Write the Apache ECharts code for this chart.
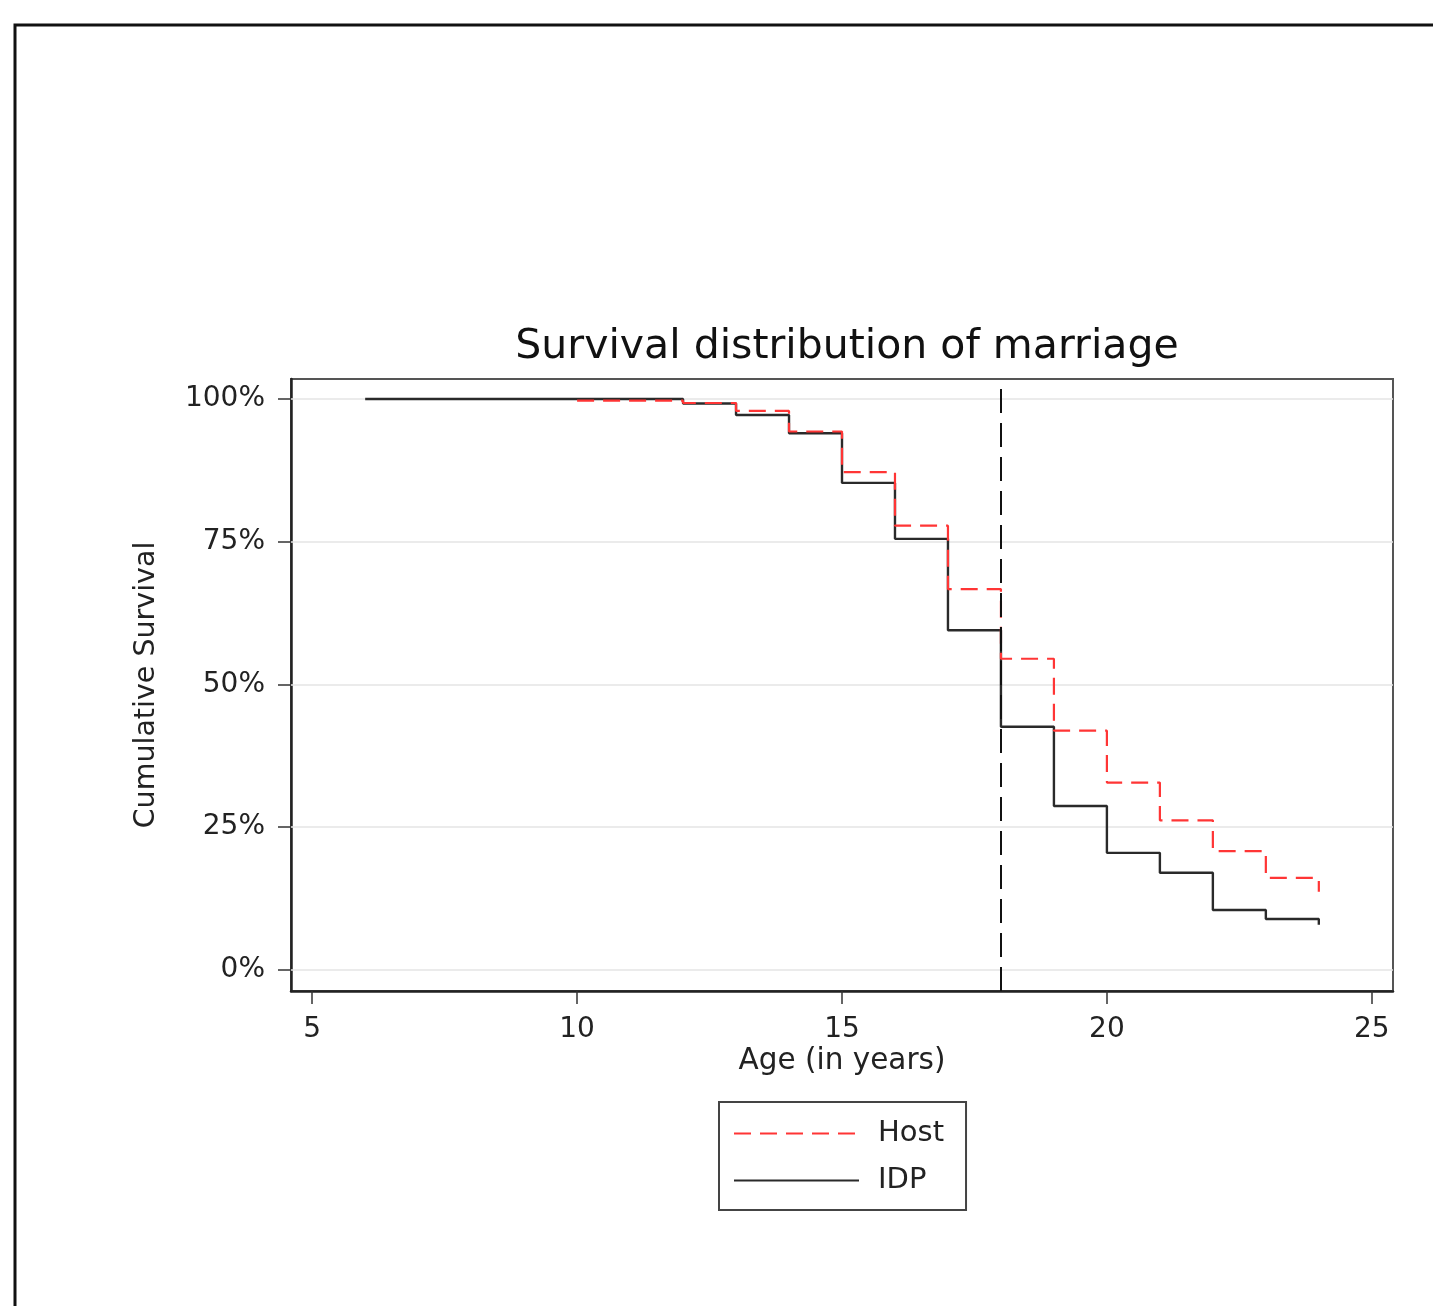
<!DOCTYPE html>
<html>
<head>
<meta charset="utf-8">
<script src="https://cdn.jsdelivr.net/npm/echarts@6/dist/echarts.min.js"></script>
<style>
html,body{margin:0;padding:0;background:#fff;}
#main{width:1433px;height:1306px;}
</style>
</head>
<body>
<div id="main"></div>
<script>
// Kaplan-Meier step points: [age, cumulative survival %]
var hostAges = [10, 12, 13, 14, 15, 16, 17, 18, 19, 20, 21, 22, 23, 24];
var hostSurv = [99.7, 99.3, 97.9, 94.3, 87.2, 77.8, 66.7, 54.5, 41.9, 32.8, 26.2, 20.8, 16.1, 13.7];
var idpAges = [6, 12, 13, 14, 15, 16, 17, 18, 19, 20, 21, 22, 23, 24];
var idpSurv = [100, 99.2, 97.2, 94.0, 85.3, 75.5, 59.5, 42.6, 28.7, 20.5, 17.0, 10.5, 8.9, 7.9];
var xTicks = [5, 10, 15, 20, 25];
var yTicks = [0, 25, 50, 75, 100];
var cutoffAge = 18;

var font = "'DejaVu Sans', 'Liberation Sans', Arial, sans-serif";

function pairs(xs, ys) {
  var out = [];
  for (var i = 0; i < xs.length; i++) out.push([xs[i], ys[i]]);
  return out;
}

var gridLines = yTicks.map(function (v) { return { yAxis: v }; });

var myChart = echarts.init(document.getElementById('main'));
var option = {
  backgroundColor: '#fff',
  animation: false,
  textStyle: { fontFamily: font },
  title: {
    text: 'Survival distribution of marriage',
    left: 842,
    textAlign: 'center',
    top: 322,
    textStyle: { fontSize: 41, fontWeight: 'normal', color: '#111', fontFamily: font }
  },
  graphic: [{
    type: 'rect',
    shape: { x: 15, y: 25, width: 1440, height: 1300 },
    style: { fill: 'none', stroke: '#111', lineWidth: 3 },
    silent: true
  }],
  legend: {
    orient: 'vertical',
    left: 719,
    top: 1102,
    itemWidth: 125,
    itemHeight: 14,
    itemGap: 18,
    padding: [17, 22, 15, 14],
    borderColor: '#444',
    borderWidth: 2,
    itemStyle: { opacity: 0 },
    textStyle: { fontSize: 29, color: '#222', fontFamily: font, padding: [0, 0, 0, 14] },
    data: ['Host', 'IDP']
  },
  grid: {
    left: 291,
    right: 40,
    top: 379,
    bottom: 315,
    show: true,
    borderColor: '#555',
    borderWidth: 2
  },
  xAxis: {
    type: 'value',
    min: 4.6,
    max: 25.4,
    name: 'Age (in years)',
    nameLocation: 'middle',
    nameGap: 55,
    nameTextStyle: { fontSize: 29.5, color: '#222', fontFamily: font },
    axisLine: { show: true, onZero: false, lineStyle: { color: '#222', width: 2.5 } },
    axisTick: { show: true, length: 13, lineStyle: { color: '#333', width: 1.5 }, customValues: xTicks },
    axisLabel: { fontSize: 28, color: '#222', margin: 25, customValues: xTicks },
    splitLine: { show: false }
  },
  yAxis: {
    type: 'value',
    min: -3.7,
    max: 103.5,
    name: 'Cumulative Survival',
    nameLocation: 'middle',
    nameGap: 130,
    nameTextStyle: { fontSize: 28.5, color: '#222', fontFamily: font },
    axisLine: { show: true, onZero: false, lineStyle: { color: '#222', width: 2.5 } },
    axisTick: { show: true, length: 13, lineStyle: { color: '#333', width: 1.5 }, customValues: yTicks },
    axisLabel: {
      fontSize: 28, color: '#222', margin: 26, customValues: yTicks,
      formatter: function (v) { return Math.round(v) + '%'; }
    },
    splitLine: { show: false }
  },
  series: [
    {
      name: 'Host',
      type: 'line',
      step: 'end',
      symbol: 'none',
      z: 3,
      lineStyle: { color: '#ff3535', width: 2.2, type: [17, 9] },
      itemStyle: { color: '#ff3535' },
      data: pairs(hostAges, hostSurv),
      markLine: {
        silent: true,
        z: 1,
        symbol: 'none',
        label: { show: false },
        lineStyle: { color: '#e4e4e4', width: 1.5, type: 'solid' },
        data: gridLines
      }
    },
    {
      name: 'IDP',
      type: 'line',
      step: 'end',
      symbol: 'none',
      z: 2,
      lineStyle: { color: '#2a2a2a', width: 2.4, type: 'solid' },
      itemStyle: { color: '#2a2a2a' },
      data: pairs(idpAges, idpSurv),
      markLine: {
        silent: true,
        z: 5,
        symbol: 'none',
        label: { show: false },
        lineStyle: { color: '#111', width: 2, type: [24, 10] },
        data: [{ xAxis: cutoffAge }]
      }
    }
  ]
};
myChart.setOption(option);
</script>
</body>
</html>
